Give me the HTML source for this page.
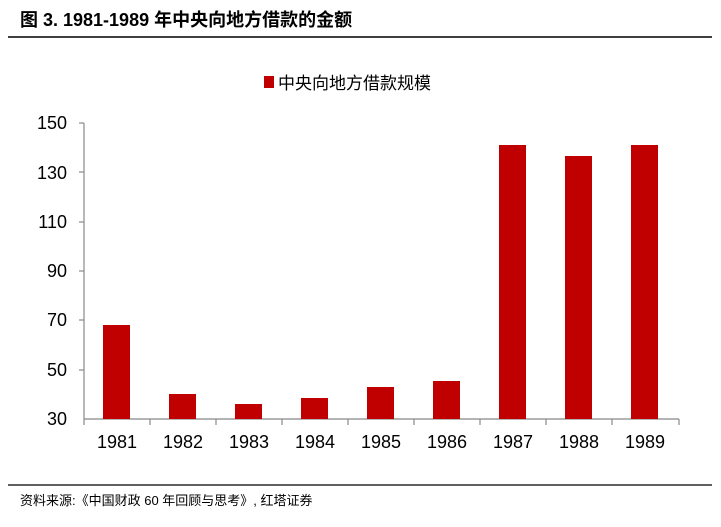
<!DOCTYPE html>
<html><head><meta charset="utf-8"><style>
body{margin:0;width:721px;height:522px;background:#fff;overflow:hidden;font-family:"Liberation Sans","Noto Sans CJK SC",sans-serif;}
</style></head><body>
<svg width="721" height="522" xmlns="http://www.w3.org/2000/svg" font-family="Liberation Sans, Noto Sans CJK SC, sans-serif">
<text x="20" y="26" font-size="18" font-weight="bold" fill="#000">图 3. 1981-1989 年中央向地方借款的金额</text>
<line x1="8" y1="37" x2="712" y2="37" stroke="#000" stroke-width="1.5"/>
<rect x="264" y="76" width="10" height="12" fill="#c00000"/>
<text x="278" y="89" font-size="17" fill="#000">中央向地方借款规模</text>
<g font-size="18" fill="#000" text-anchor="end">
<text x="67" y="129">150</text><text x="67" y="179">130</text><text x="67" y="228">110</text>
<text x="67" y="277">90</text><text x="67" y="326">70</text><text x="67" y="376">50</text><text x="67" y="425">30</text>
</g>
<g stroke="#888" stroke-width="1.2">
<line x1="84" y1="123" x2="84" y2="419"/>
<line x1="79" y1="123" x2="84" y2="123"/><line x1="79" y1="172" x2="84" y2="172"/><line x1="79" y1="222" x2="84" y2="222"/>
<line x1="79" y1="271" x2="84" y2="271"/><line x1="79" y1="320" x2="84" y2="320"/><line x1="79" y1="370" x2="84" y2="370"/>
<line x1="84" y1="419" x2="679" y2="419"/>
<line x1="84" y1="419" x2="84" y2="425"/><line x1="150" y1="419" x2="150" y2="425"/><line x1="216" y1="419" x2="216" y2="425"/>
<line x1="282" y1="419" x2="282" y2="425"/><line x1="348" y1="419" x2="348" y2="425"/><line x1="414" y1="419" x2="414" y2="425"/>
<line x1="480" y1="419" x2="480" y2="425"/><line x1="546" y1="419" x2="546" y2="425"/><line x1="612" y1="419" x2="612" y2="425"/><line x1="679" y1="419" x2="679" y2="425"/>
</g>
<g fill="#c00000">
<rect x="103" y="325" width="27" height="94"/>
<rect x="169" y="394" width="27" height="25"/>
<rect x="235" y="404" width="27" height="15"/>
<rect x="301" y="398" width="27" height="21"/>
<rect x="367" y="387" width="27" height="32"/>
<rect x="433" y="381" width="27" height="38"/>
<rect x="499" y="145" width="27" height="274"/>
<rect x="565" y="156" width="27" height="263"/>
<rect x="631" y="145" width="27" height="274"/>
</g>
<g font-size="18" fill="#000" text-anchor="middle">
<text x="117" y="448">1981</text><text x="183" y="448">1982</text><text x="249" y="448">1983</text>
<text x="315" y="448">1984</text><text x="381" y="448">1985</text><text x="447" y="448">1986</text>
<text x="513" y="448">1987</text><text x="579" y="448">1988</text><text x="645" y="448">1989</text>
</g>
<line x1="8" y1="485" x2="712" y2="485" stroke="#000" stroke-width="1.2"/>
<text x="20" y="505" font-size="13" fill="#000">资料来源:《中国财政 60 年回顾与思考》, 红塔证券</text>
</svg>
</body></html>
